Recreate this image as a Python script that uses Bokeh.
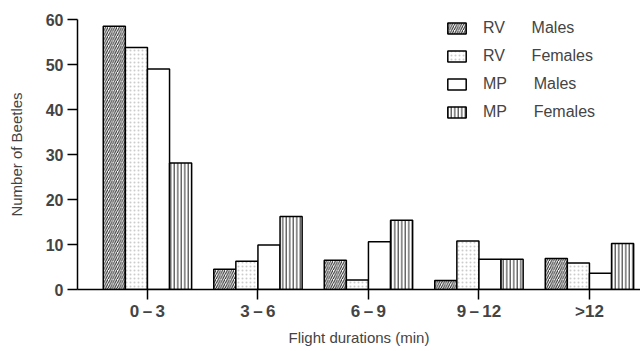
from bokeh.plotting import figure
from bokeh.models import ColumnDataSource, Legend, LegendItem, FixedTicker, Range1d
from bokeh.transform import dodge
from bokeh.embed import file_html
from bokeh.resources import INLINE

categories = ["0\u2009\u2013\u20093", "3\u2009\u2013\u20096", "6\u2009\u2013\u20099", "9\u2009\u2013\u200912", ">12"]
rv_males = [58.5, 4.5, 6.5, 2.0, 6.9]
rv_females = [53.8, 6.3, 2.1, 10.8, 5.9]
mp_males = [49.0, 9.9, 10.6, 6.7, 3.6]
mp_females = [28.1, 16.2, 15.4, 6.7, 10.2]
y_ticks = [0, 10, 20, 30, 40, 50, 60]

FONT = "Liberation Sans"

src = ColumnDataSource(dict(
    x=list(range(len(categories))),
    rvm=rv_males, rvf=rv_females, mpm=mp_males, mpf=mp_females,
))

p = figure(frame_width=563, frame_height=270,
           x_range=Range1d(-0.633, 4.462), y_range=Range1d(0, 60),
           output_backend="svg", toolbar_location=None,
           min_border_left=77, min_border_right=0, min_border_top=19, min_border_bottom=0)
p.outline_line_color = None
p.xgrid.grid_line_color = None
p.ygrid.grid_line_color = None
p.background_fill_color = "white"
p.border_fill_color = "white"

common = dict(width=0.2, source=src, fill_color="white", line_color="black", line_width=1.5)
r1 = p.vbar(x=dodge("x", -0.3, range=p.x_range), top="rvm",
            hatch_pattern="right_diagonal_line", hatch_color="#222222", hatch_scale=4.5,
            hatch_weight=1.0, **common)
r2 = p.vbar(x=dodge("x", -0.1, range=p.x_range), top="rvf",
            hatch_pattern="dot", hatch_color="#cccccc", hatch_scale=4, hatch_weight=0.5,
            **common)
r3 = p.vbar(x=dodge("x", 0.1, range=p.x_range), top="mpm", **common)
r4 = p.vbar(x=dodge("x", 0.3, range=p.x_range), top="mpf",
            hatch_pattern="vertical_line", hatch_color="#222222", hatch_scale=3.5,
            hatch_weight=1.0, **common)

# axes
xa = p.xaxis[0]
xa.ticker = FixedTicker(ticks=list(range(len(categories))))
xa.major_label_overrides = {i: c for i, c in enumerate(categories)}
xa.minor_tick_line_color = None
xa.major_tick_in = 0
xa.major_tick_out = 10
xa.major_tick_line_width = 1.5
xa.axis_line_width = 1.5
xa.major_label_standoff = 2
xa.major_label_text_font = FONT
xa.major_label_text_font_size = "17px"
xa.major_label_text_font_style = "bold"
xa.axis_label = "Flight durations (min)"
xa.axis_label_text_font = FONT
xa.axis_label_text_font_size = "15px"
xa.axis_label_text_font_style = "normal"
xa.axis_label_standoff = 5

ya = p.yaxis[0]
ya.ticker = FixedTicker(ticks=y_ticks)
ya.minor_tick_line_color = None
ya.major_tick_in = 0
ya.major_tick_out = 10
ya.major_tick_line_width = 1.5
ya.axis_line_width = 1.5
ya.major_label_standoff = 4
ya.major_label_text_font = FONT
ya.major_label_text_font_size = "16px"
ya.major_label_text_font_style = "bold"
ya.axis_label = "Number of Beetles"
ya.axis_label_text_font = FONT
ya.axis_label_text_font_size = "15px"
ya.axis_label_text_font_style = "normal"
ya.axis_label_standoff = 18

nb = "\u00a0" * 6
legend = Legend(items=[
    LegendItem(label="RV" + nb + "Males", renderers=[r1]),
    LegendItem(label="RV" + nb + "Females", renderers=[r2]),
    LegendItem(label="MP" + nb + "Males", renderers=[r3]),
    LegendItem(label="MP" + nb + "Females", renderers=[r4]),
], location=(368, 168))
legend.border_line_color = None
legend.background_fill_alpha = 0
legend.padding = 0
legend.margin = 0
legend.spacing = 10
legend.glyph_width = 23
legend.glyph_height = 14
legend.label_height = 14
legend.label_standoff = 15
legend.label_text_font = FONT
legend.label_text_font_size = "16px"
legend.label_text_baseline = "middle"
p.add_layout(legend, "center")

open("out.html", "w").write(file_html(p, INLINE))
